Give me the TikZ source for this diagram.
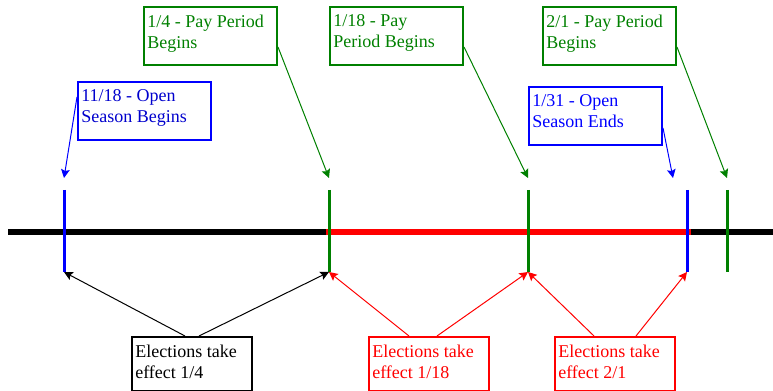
\documentclass[tikz,border=0pt]{standalone}
\usepackage{fontspec}
\setmainfont{Liberation Serif}
\usetikzlibrary{arrows.meta,calc}
\definecolor{pgreen}{RGB}{0,128,0}
\definecolor{pblue}{RGB}{0,0,255}
\definecolor{dblue}{RGB}{0,0,205}
\definecolor{pred}{RGB}{255,0,0}

\begin{document}
\begin{tikzpicture}[x=0.75pt,y=-0.75pt,
  box/.style={draw=#1, line width=1.5pt, anchor=north west, inner sep=0pt,
    minimum width=99.75pt, minimum height=43.5pt},
  ebox/.style={draw=#1, line width=1.5pt, anchor=north west, inner sep=0pt,
    minimum width=90pt, minimum height=40.5pt},
  txt/.style={text=#1, anchor=north west, align=left, inner sep=0pt,
    xshift=3pt, yshift=-6.5pt, font=\fontsize{13.5pt}{15.8pt}\selectfont},
  tickline/.style={draw=#1, line width=2.25pt},
  ptr/.style={draw=#1, line width=0.75pt, -{Stealth[length=6.5pt,width=6.5pt,inset=1.2pt]}},
]
\useasboundingbox (0,0) rectangle (773,391);

% timeline
\draw[line width=5pt] (8,232) -- (326,232);
\draw[line width=5pt] (690,232) -- (773,232);
\draw[line width=5pt, pred] (326,232) -- (691,232);

% tick marks: top and bottom ends
\coordinate (a1) at (64,190);  \coordinate (b1) at (64,272);
\coordinate (a2) at (329,190); \coordinate (b2) at (329,272);
\coordinate (a3) at (528,190); \coordinate (b3) at (528,272);
\coordinate (a4) at (687,190); \coordinate (b4) at (687,272);
\coordinate (a5) at (727,190); \coordinate (b5) at (727,272);
\draw[tickline=pblue]  (a1) -- (b1);
\draw[tickline=pgreen] (a2) -- (b2);
\draw[tickline=pgreen] (a3) -- (b3);
\draw[tickline=pblue]  (a4) -- (b4);
\draw[tickline=pgreen] (a5) -- (b5);

% upper labels
\node[box=pblue, label={[txt=dblue]north west:{11/18 - Open\\Season Begins}}] (ob) at (77,81) {};
\node[box=pgreen, label={[txt=pgreen]north west:{1/4 - Pay Period\\Begins}}] (pp1) at (143,6) {};
\node[box=pgreen, label={[txt=pgreen]north west:{1/18 - Pay\\Period Begins}}] (pp2) at (329,6) {};
\node[box=pgreen, label={[txt=pgreen]north west:{2/1 - Pay Period\\Begins}}] (pp3) at (542,6) {};
\node[box=pblue, label={[txt=pblue]north west:{1/31 - Open\\Season Ends}}] (oe) at (528,86) {};

% lower labels
\node[ebox=black, label={[txt=black]north west:{Elections take\\effect 1/4}}] (eb1) at (131,336) {};
\node[ebox=pred, label={[txt=pred]north west:{Elections take\\effect 1/18}}] (eb2) at (368,336) {};
\node[ebox=pred, label={[txt=pred]north west:{Elections take\\effect 2/1}}] (eb3) at (554,336) {};

% pointers from upper labels
\draw[ptr=pblue]  ($(ob.north west)+(0,16)$) -- ($(a1)+(0,-12)$);
\draw[ptr=pgreen] ($(pp1.north east)+(0,41)$) -- ($(a2)+(0,-12)$);
\draw[ptr=pgreen] ($(pp2.north east)+(0,41)$) -- ($(a3)+(0,-12)$);
\draw[ptr=pgreen] ($(pp3.north east)+(0,41)$) -- ($(a5)+(0,-12)$);
\draw[ptr=pblue]  ($(oe.north east)+(0,42)$) -- ($(a4)+(-14,-12)$);

% pointers from lower labels
\draw[ptr=black] ($(eb1.north)+(-7,0)$) -- (b1);
\draw[ptr=black] ($(eb1.north)+(7,0)$) -- (b2);
\draw[ptr=pred]  ($(eb2.north)+(-20,0)$) -- (b2);
\draw[ptr=pred]  ($(eb2.north)+(8,0)$) -- (b3);
\draw[ptr=pred]  ($(eb3.north)+(-21,0)$) -- (b3);
\draw[ptr=pred]  ($(eb3.north)+(21,0)$) -- (b4);
\end{tikzpicture}
\end{document}
